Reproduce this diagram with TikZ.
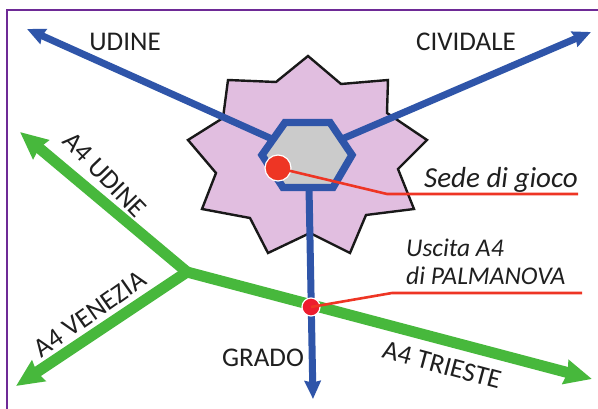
\documentclass[tikz,border=0pt]{standalone}
\usepackage{fontspec}
\setmainfont{Carlito}
\usetikzlibrary{arrows.meta}
\definecolor{roadblue}{HTML}{2F55A9}
\definecolor{roadgreen}{HTML}{47B83C}
\definecolor{framepurple}{HTML}{6E2A96}
\definecolor{starfill}{HTML}{E1BEE0}
\definecolor{hexfill}{HTML}{CBCBCB}
\definecolor{leadred}{HTML}{EE3524}
\definecolor{dotred}{HTML}{ED1C2E}
\tikzset{
  bluearrow/.style={draw=roadblue,line width=7pt,-{Stealth[length=18pt,width=16pt,inset=1.5pt]}},
  greenarrow/.style={draw=roadgreen,line width=11pt,-{Stealth[length=27pt,width=24pt,inset=2pt]}},
  lead/.style={draw=leadred,line width=2.6pt},
  lab/.style={font=\fontsize{27}{27}\selectfont,text=black!88,inner sep=0pt},
  dot/.style={circle,inner sep=0pt,draw=white,line width=1.2pt},
}
\begin{document}
\begin{tikzpicture}[x=1pt,y=-1pt]
\useasboundingbox (0,0) rectangle (598,409);
\fill[white] (0,0) rectangle (598,409);
\draw[framepurple,line width=2.6pt] (7,409) -- (7,10) -- (598,10);
\draw[black!90,line width=2.4pt,fill=starfill,line join=miter]
 (308,56) -- (341,84) -- (388,80) -- (387,113) -- (427,140) -- (398,169) -- (414,209) -- (366,215) -- (350,253)
 -- (310,233) -- (268,253) -- (250,218) -- (202,209) -- (216,173) -- (188,140) -- (223,118) -- (228,80) -- (276,82) -- cycle;
\coordinate (hexL) at (262,155);
\coordinate (hexTL) at (285,122.5);
\coordinate (hexTR) at (330,122.5);
\coordinate (hexR) at (352,155);
\coordinate (hexBR) at (333,187.5);
\coordinate (hexBL) at (283,187.5);
\coordinate (udineTip) at (27,29);
\coordinate (cividaleTip) at (591,32);
\coordinate (gradoTip) at (313,399);
\coordinate (junction) at (187,272);
\coordinate (a4uTip) at (20,132);
\coordinate (a4vTip) at (16,386);
\coordinate (a4tTip) at (592,379);
\coordinate (hexUdine) at (272,139);
\coordinate (hexCividale) at (342,139);
\coordinate (hexGrado) at (309,187);
\draw[greenarrow] (junction) -- (a4uTip);
\draw[greenarrow] (junction) -- (a4vTip);
\draw[greenarrow] (junction) -- (a4tTip);
\draw[bluearrow] (hexUdine) -- (udineTip);
\draw[bluearrow] (hexCividale) -- (cividaleTip);
\draw[bluearrow] (hexGrado) -- (gradoTip);
\draw[draw=roadblue,line width=7.4pt,fill=hexfill,line join=miter]
 (hexL) -- (hexTL) -- (hexTR) -- (hexR) -- (hexBR) -- (hexBL) -- cycle;
\node[dot,fill=leadred,minimum size=26pt] (sede) at (278,168) {};
\node[dot,fill=dotred,minimum size=18pt] (uscita) at (311,307) {};
\coordinate (sedeBend) at (387,194);
\coordinate (sedeEnd) at (578,194);
\coordinate (uscitaBend) at (392,293);
\coordinate (uscitaEnd) at (582,293);
\draw[lead] (sede.center) -- (sedeBend) -- (sedeEnd);
\draw[lead] (uscita.center) -- (uscitaBend) -- (uscitaEnd);
\node[lab] (tUdine) at (125,42) {UDINE};
\node[lab] (tCividale) at (466,42) {CIVIDALE};
\node[lab] (tGrado) at (263,358) {GRADO};
\node[lab,rotate=-46] (tA4U) at (105,175) {A4 UDINE};
\node[lab,rotate=35] (tA4V) at (90,314) {A4 VENEZIA};
\node[lab,rotate=-15] (tA4T) at (442,365) {A4 TRIESTE};
\node[lab,anchor=base,font=\fontsize{29}{29}\selectfont\itshape] (tSede) at (501,188) {Sede di gioco};
\node[lab,anchor=base west,font=\fontsize{25.5}{26}\selectfont\itshape] (tUscitaA) at (406,257) {Uscita A4};
\node[lab,anchor=base west,font=\fontsize{25.5}{26}\selectfont\itshape] (tUscitaB) at (406,284) {di PALMANOVA};
\end{tikzpicture}
\end{document}
